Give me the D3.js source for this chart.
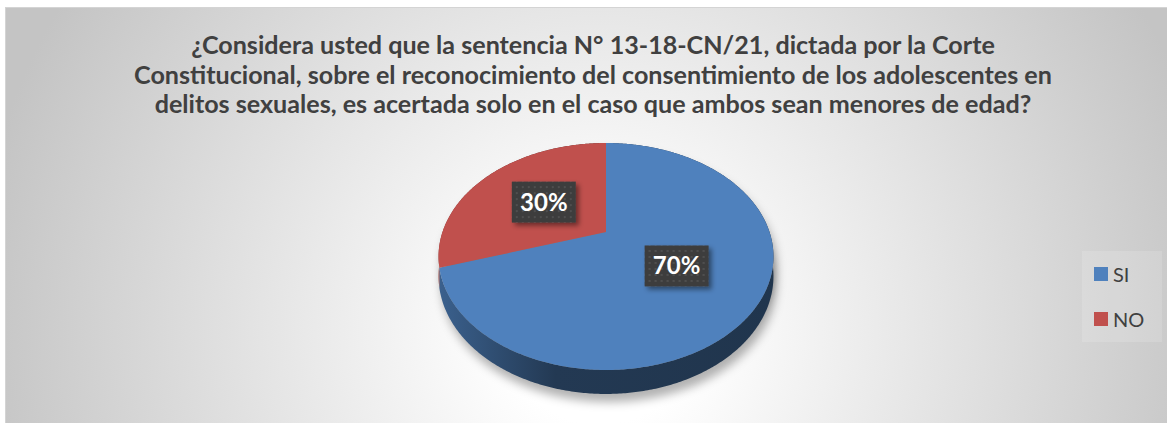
<!DOCTYPE html>
<html><head><meta charset="utf-8">
<script src="https://cdn.jsdelivr.net/npm/d3@7"></script>
<style>html,body{margin:0;padding:0;background:#fff;}svg{display:block;}</style>
</head><body>
<svg id="chart" width="1167" height="423"></svg>
<script>
// ---- data ----
const categories = ["SI", "NO"];
const values = [70, 30];
const valueLabels = ["70%", "30%"];
const colors = ["#4F81BD", "#C0504D"];
const titleLines = [
  "¿Considera usted que la sentencia N° 13-18-CN/21, dictada por la Corte",
  "Constitucional, sobre el reconocimiento del consentimiento de los adolescentes en",
  "delitos sexuales, es acertada solo en el caso que ambos sean menores de edad?"
];

// ---- layout ----
const W = 1167, H = 423;
const svg = d3.select("#chart");
const defs = svg.append("defs");

// background
const bg = defs.append("radialGradient").attr("id","bg")
  .attr("gradientUnits","userSpaceOnUse").attr("cx",600).attr("cy",330).attr("r",630);
bg.append("stop").attr("offset",0).attr("stop-color","#ffffff");
bg.append("stop").attr("offset",0.15).attr("stop-color","#ffffff");
bg.append("stop").attr("offset",1).attr("stop-color","#c4c4c4");
svg.append("rect").attr("x",5.5).attr("y",7.5).attr("width",W-5).attr("height",H-7)
  .attr("fill","url(#bg)").attr("stroke","#d4d4d4").attr("stroke-width",1);

// title
const title = svg.append("g").attr("font-family","Lato, 'Open Sans', sans-serif")
  .attr("font-weight","bold").attr("fill","#404040").attr("text-anchor","middle");
const tl = title.selectAll("text").data(titleLines).join("text")
  .attr("x",593).attr("y",(d,i)=>54 + i*29.5).attr("font-size",24).text(d=>d);
const w2 = tl.nodes()[1].getComputedTextLength();
const fs = 24 * 918 / w2;
tl.attr("font-size", fs);

// projection of the tilted disk (u: horizontal, v: depth, -1 far .. +1 near)
const CX = 606, CY = 232, R = 163.5, PA = 58.1, PK = -0.2159, DEPTH = 18.8;
function proj(u, v, dz) {
  const w = 1 + PK * v;
  return [CX + R * u / w, (PA * v + CY) / w + (dz || 0) / w];
}
function pt(angle, f, dz) { return proj(f * Math.sin(angle), -f * Math.cos(angle), dz); }
function arcPts(a0, a1, f, dz) {
  const n = Math.max(2, Math.ceil(Math.abs(a1 - a0) / 0.01));
  return d3.range(n + 1).map(i => pt(a0 + (a1 - a0) * i / n, f, dz));
}
const line = d3.line();

const pie = d3.pie().sort(null).value(d => d)(values);

// shadow
const sh = defs.append("filter").attr("id","shadow").attr("x","-20%").attr("y","-20%").attr("width","140%").attr("height","150%");
sh.append("feGaussianBlur").attr("stdDeviation",5);
svg.append("g").attr("filter","url(#shadow)").attr("transform","translate(3,8)")
  .selectAll("path").data([0, DEPTH]).join("path")
  .attr("d", dz => line(arcPts(0, 2*Math.PI, 1, dz)) + "Z")
  .attr("fill","#000").attr("fill-opacity",0.3);

// side walls
pie.forEach((d, i) => {
  const g = defs.append("linearGradient").attr("id","side"+i)
    .attr("gradientUnits","userSpaceOnUse").attr("x1",CX-R*1.03).attr("x2",CX+R*1.03).attr("y1",0).attr("y2",0);
  const base = d3.color(colors[i]);
  g.append("stop").attr("offset",0).attr("stop-color",base.darker(0.8));
  g.append("stop").attr("offset",0.35).attr("stop-color",base.darker(2.3));
  g.append("stop").attr("offset",1).attr("stop-color",base.darker(2.5));
});
svg.append("g").selectAll("path").data(pie).join("path")
  .attr("d", d => {
    const top = arcPts(d.startAngle, d.endAngle, 1, 0);
    const bot = arcPts(d.startAngle, d.endAngle, 1, DEPTH).reverse();
    return line(top.concat(bot)) + "Z";
  })
  .attr("fill", (d,i) => "url(#side"+i+")");

// top faces
svg.append("g").selectAll("path").data(pie).join("path")
  .attr("d", d => line([proj(0,0)].concat(arcPts(d.startAngle, d.endAngle, 1, 0))) + "Z")
  .attr("fill", (d,i) => colors[i]);

// data labels
const pat = defs.append("pattern").attr("id","dots").attr("patternUnits","userSpaceOnUse")
  .attr("width",6).attr("height",6);
pat.append("rect").attr("width",6).attr("height",6).attr("fill","#3d3d3d");
pat.append("rect").attr("x",2).attr("y",2).attr("width",2).attr("height",2).attr("fill","#4f4f4f");
const ls = defs.append("filter").attr("id","lshadow").attr("x","-30%").attr("y","-30%").attr("width","170%").attr("height","180%");
ls.append("feDropShadow").attr("dx",3).attr("dy",3).attr("stdDeviation",2.5).attr("flood-color","#000").attr("flood-opacity",0.45);

const labels = svg.append("g").selectAll("g").data(pie).join("g")
  .attr("transform", d => {
    const p = pt((d.startAngle + d.endAngle) / 2, 0.5, 0);
    return `translate(${p[0]},${p[1]})`;
  });
labels.append("rect").attr("x",-32).attr("y",-20.5).attr("width",64).attr("height",41)
  .attr("fill","url(#dots)").attr("filter","url(#lshadow)");
labels.append("text").attr("text-anchor","middle").attr("y",8.5)
  .attr("font-family","Lato, 'Open Sans', sans-serif").attr("font-weight","bold")
  .attr("font-size",24).attr("fill","#ffffff").text((d,i)=>valueLabels[i]);

// legend
svg.append("rect").attr("x",1082).attr("y",251).attr("width",80).attr("height",91)
  .attr("fill","#ffffff").attr("fill-opacity",0.15);
const ly = d3.scalePoint().domain(categories).range([274, 319]);
const lg = svg.append("g").selectAll("g").data(categories).join("g")
  .attr("transform", d => `translate(1094,${ly(d)})`);
lg.append("rect").attr("x",0).attr("y",-7).attr("width",14).attr("height",14)
  .attr("fill",(d,i)=>colors[i]);
lg.append("text").attr("x",19).attr("y",7.5)
  .attr("font-family","Lato, 'Open Sans', sans-serif").attr("font-size",20)
  .attr("fill","#404040").text(d=>d);
</script>
</body></html>
